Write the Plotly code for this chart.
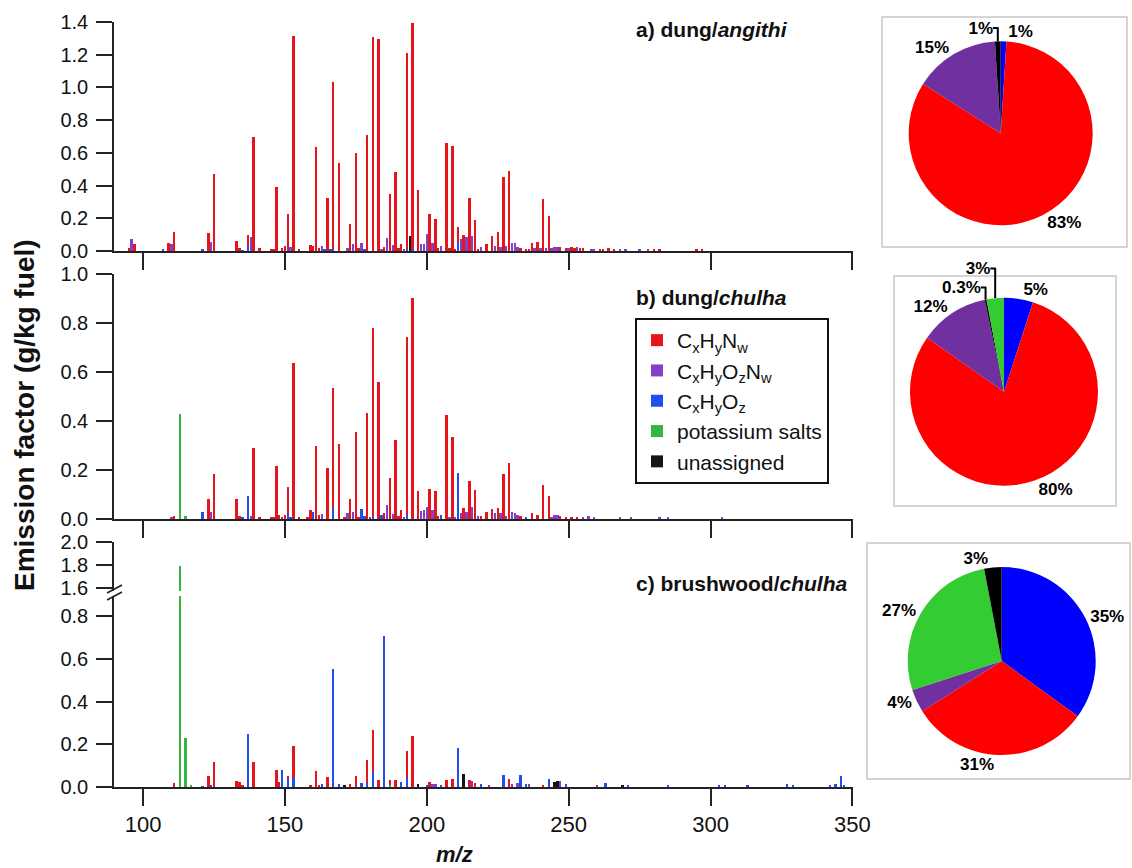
import plotly.graph_objects as go

FONT = "Liberation Sans, Arial, sans-serif"

# ---------------- data (m/z, emission factor g/kg fuel) ----------------
# Panel a) dung / angithi
a_red_mz = [95, 97, 109, 111, 123, 125, 133, 134, 137, 139, 141, 145, 146, 147, 149, 150, 151, 153, 155, 159,
            160, 161, 162, 165, 167, 169, 173, 175, 176, 177, 179, 181, 183, 185, 187, 189, 190, 191, 193, 195,
            197, 201, 203, 204, 207, 208, 209, 210, 211, 213, 215, 217, 218, 221, 223, 225, 227, 229, 233, 235,
            236, 237, 239, 241, 243, 247, 249, 251, 252, 254, 255, 261, 262, 264, 266, 280, 282, 295, 297]
a_red_ef = [0.02, 0.04, 0.05, 0.114, 0.11, 0.47, 0.06, 0.018, 0.10, 0.70, 0.02, 0.01, 0.012, 0.39, 0.016, 0.033, 0.226, 1.315, 0.012, 0.037,
            0.03, 0.635, 0.02, 0.322, 1.033, 0.54, 0.163, 0.598, 0.016, 0.035, 0.712, 1.31, 1.298, 0.025, 0.351, 0.48, 0.018, 0.043, 1.21, 1.394,
            0.37, 0.229, 0.198, 0.02, 0.659, 0.016, 0.639, 0.01, 0.149, 0.098, 0.324, 0.192, 0.014, 0.04, 0.092, 0.114, 0.455, 0.488, 0.016, 0.012,
            0.012, 0.051, 0.057, 0.316, 0.212, 0.027, 0.016, 0.024, 0.018, 0.016, 0.018, 0.012, 0.012, 0.016, 0.014, 0.012, 0.01, 0.012, 0.01]
a_pur_mz = [96, 110, 124, 138, 152, 163, 172, 174, 177, 184, 186, 188, 192, 198, 199, 200, 202, 205, 212, 214,
            216, 219, 224, 226, 228, 230, 231, 232, 238, 240, 242, 244, 245, 246, 250, 253, 258, 259, 268, 270, 275, 278]
a_pur_ef = [0.072, 0.043, 0.055, 0.088, 0.022, 0.033, 0.018, 0.045, 0.05, 0.01, 0.082, 0.037, 0.014, 0.04, 0.04, 0.104, 0.049, 0.033, 0.073, 0.088,
            0.092, 0.022, 0.03, 0.027, 0.03, 0.051, 0.05, 0.027, 0.02, 0.02, 0.018, 0.018, 0.024, 0.024, 0.016, 0.022, 0.012, 0.012, 0.012, 0.01, 0.012, 0.01]
a_blu_mz = [107, 121, 135, 137, 151, 164, 166, 167, 178, 193, 195, 211]
a_blu_ef = [0.01, 0.015, 0.005, 0.03, 0.015, 0.008, 0.008, 0.015, 0.008, 0.012, 0.015, 0.057]
a_grn_mz = []
a_grn_ef = []
a_blk_mz = [194]
a_blk_ef = [0.09]

# Panel b) dung / chulha
b_red_mz = [111, 123, 125, 133, 134, 139, 141, 145, 146, 147, 148, 149, 150, 151, 153, 155, 158, 159, 161, 162,
            165, 167, 169, 171, 173, 175, 176, 179, 180, 181, 183, 185, 187, 189, 190, 191, 193, 195, 197, 201,
            203, 204, 207, 209, 213, 215, 217, 219, 221, 223, 225, 227, 229, 233, 237, 239, 241, 243, 247, 249, 251, 253]
b_red_ef = [0.01, 0.079, 0.184, 0.079, 0.012, 0.288, 0.008, 0.008, 0.008, 0.214, 0.014, 0.008, 0.014, 0.129, 0.637, 0.004, 0.004, 0.034, 0.298, 0.014,
            0.207, 0.533, 0.306, 0.007, 0.08, 0.354, 0.007, 0.431, 0.007, 0.778, 0.56, 0.023, 0.166, 0.321, 0.01, 0.035, 0.744, 0.90, 0.113, 0.121,
            0.113, 0.012, 0.424, 0.335, 0.045, 0.154, 0.117, 0.012, 0.027, 0.039, 0.044, 0.184, 0.227, 0.011, 0.023, 0.015, 0.136, 0.093, 0.01, 0.007, 0.007, 0.007]
b_pur_mz = [110, 124, 138, 163, 172, 174, 186, 188, 192, 198, 199, 200, 202, 208, 210, 212, 214, 216, 218, 224,
            226, 228, 230, 231, 232, 244, 245, 246, 255, 257, 259, 268, 272, 282, 285, 304]
b_pur_ef = [0.007, 0.027, 0.012, 0.018, 0.023, 0.029, 0.054, 0.018, 0.007, 0.03, 0.035, 0.048, 0.037, 0.007, 0.008, 0.023, 0.027, 0.046, 0.01, 0.022,
            0.023, 0.012, 0.027, 0.024, 0.015, 0.008, 0.015, 0.015, 0.007, 0.011, 0.008, 0.004, 0.004, 0.004, 0.004, 0.007]
b_blu_mz = [121, 135, 137, 151, 152, 160, 167, 177, 178, 181, 184, 193, 205, 211, 235]
b_blu_ef = [0.027, 0.008, 0.091, 0.019, 0.005, 0.027, 0.042, 0.039, 0.01, 0.011, 0.015, 0.019, 0.016, 0.186, 0.008]
b_grn_mz = [113, 115]
b_grn_ef = [0.429, 0.012]
b_blk_mz = []
b_blk_ef = []

# Panel c) brushwood / chulha
c_red_mz = [111, 123, 125, 133, 134, 135, 139, 147, 148, 151, 153, 159, 161, 162, 165, 167, 173, 175, 179, 181,
            183, 187, 189, 193, 195, 201, 207, 209, 215, 217, 229, 241]
c_red_ef = [0.017, 0.053, 0.116, 0.028, 0.022, 0.005, 0.116, 0.081, 0.022, 0.053, 0.194, 0.008, 0.077, 0.009, 0.047, 0.11, 0.016, 0.053, 0.128, 0.266,
            0.031, 0.031, 0.031, 0.169, 0.239, 0.022, 0.031, 0.036, 0.031, 0.019, 0.036, 0.008]
c_pur_mz = [202, 203, 216, 222, 230, 232, 236, 247, 260]
c_pur_ef = [0.012, 0.012, 0.028, 0.009, 0.013, 0.017, 0.013, 0.028, 0.008]
c_blu_mz = [121, 124, 137, 149, 151, 153, 163, 167, 169, 177, 179, 181, 185, 191, 193, 200, 205, 211, 219, 227,
            233, 235, 243, 249, 263, 271, 285, 303, 305, 313, 327, 329, 342, 344, 346, 347]
c_blu_ef = [0.003, 0.01, 0.25, 0.078, 0.036, 0.044, 0.014, 0.552, 0.016, 0.019, 0.019, 0.069, 0.708, 0.022, 0.044, 0.009, 0.009, 0.183, 0.013, 0.055,
            0.058, 0.014, 0.038, 0.013, 0.017, 0.008, 0.008, 0.008, 0.008, 0.006, 0.013, 0.008, 0.008, 0.013, 0.05, 0.008]
c_grn_mz = [113, 115, 117, 187]
c_grn_ef = [1.79, 0.231, 0.006, 0.008]
c_blk_mz = [171, 197, 213, 245, 246, 269]
c_blk_ef = [0.005, 0.016, 0.063, 0.025, 0.028, 0.008]

# Class names / colours
class_names = ["C<sub>x</sub>H<sub>y</sub>N<sub>w</sub>",
               "C<sub>x</sub>H<sub>y</sub>O<sub>z</sub>N<sub>w</sub>",
               "C<sub>x</sub>H<sub>y</sub>O<sub>z</sub>",
               "potassium salts",
               "unassigned"]
bar_colors = ["#E8141B", "#8540C8", "#1F4FEE", "#33B540", "#151515"]
pie_colors = ["#FF0000", "#7030A0", "#0000FF", "#33CC33", "#000000"]

# Pie charts (slice order clockwise from 12 o'clock), class index + percent
pie_a_cls = [2, 0, 1, 4]
pie_a_pct = [1, 83, 15, 1]
pie_b_cls = [2, 0, 1, 4, 3]
pie_b_pct = [5, 80, 12, 0.3, 3]
pie_c_cls = [2, 0, 1, 3, 4]
pie_c_pct = [35, 31, 4, 27, 3]

x_ticks = [100, 150, 200, 250, 300, 350]

# ---------------- layout helpers (pixel -> paper) ----------------
W, H = 1132, 868
def px(x):
    return x / W
def py(y):
    return 1 - y / H

fig = go.Figure()

panels = [
    ("x", "y", [(a_red_mz, a_red_ef), (a_pur_mz, a_pur_ef), (a_blu_mz, a_blu_ef), (a_grn_mz, a_grn_ef), (a_blk_mz, a_blk_ef)]),
    ("x2", "y2", [(b_red_mz, b_red_ef), (b_pur_mz, b_pur_ef), (b_blu_mz, b_blu_ef), (b_grn_mz, b_grn_ef), (b_blk_mz, b_blk_ef)]),
    ("x3", "y3", [(c_red_mz, c_red_ef), (c_pur_mz, c_pur_ef), (c_blu_mz, c_blu_ef), (c_grn_mz, c_grn_ef), (c_blk_mz, c_blk_ef)]),
    ("x3", "y4", [(c_red_mz, c_red_ef), (c_pur_mz, c_pur_ef), (c_blu_mz, c_blu_ef), (c_grn_mz, c_grn_ef), (c_blk_mz, c_blk_ef)]),
]
shown = set()
for xa, ya, series in panels:
    for k, (mz, ef) in enumerate(series):
        show = len(mz) > 0 and k not in shown
        if show:
            shown.add(k)
        fig.add_trace(go.Bar(x=mz, y=ef, xaxis=xa, yaxis=ya, width=0.85,
                             marker=dict(color=bar_colors[k], line=dict(width=0)),
                             name=class_names[k], legendgroup=str(k), showlegend=show,
                             legendrank=k + 1, hoverinfo="x+y"))

# pies
pie_specs = [
    (pie_a_cls, pie_a_pct, 1000.7, 133.3, 92),
    (pie_b_cls, pie_b_pct, 1004.0, 391.7, 94),
    (pie_c_cls, pie_c_pct, 1001.7, 661.0, 94),
]
for cls, pct, cx, cy, r in pie_specs:
    fig.add_trace(go.Pie(values=pct, labels=[class_names[c] for c in cls],
                         text=[f"{v:g}%" for v in pct], textinfo="text",
                         texttemplate="<b>%{text}</b>",
                         textposition="outside", sort=False, direction="clockwise", rotation=0,
                         marker=dict(colors=[pie_colors[c] for c in cls], line=dict(width=0)),
                         textfont=dict(family=FONT, size=17, color="black"),
                         showlegend=False, hoverinfo="label+percent", automargin=False,
                         domain=dict(x=[px(cx - r), px(cx + r)], y=[py(cy + r), py(cy - r)])))

axis_common = dict(showgrid=False, zeroline=False, showline=True, linecolor="#222", linewidth=1.6,
                   ticks="outside", tickcolor="#222", tickwidth=1.6, mirror=False, automargin=False)
xdom = [px(114), px(853)]
xrange = [89.77, 350.2]
xcommon = dict(axis_common, domain=xdom, range=xrange, tickvals=x_ticks, ticklen=17)

ycommon = dict(axis_common, ticklen=16, tickformat=".1f",
               tickfont=dict(family=FONT, size=20, color="#111"), ticklabelstandoff=4)

fig.update_layout(
    width=W, height=H, margin=dict(l=0, r=0, t=0, b=0, pad=0, autoexpand=False),
    paper_bgcolor="white", plot_bgcolor="rgba(0,0,0,0)",
    barmode="overlay", bargap=0,
    font=dict(family=FONT, color="#111"),
    xaxis=dict(xcommon, anchor="y", showticklabels=False),
    yaxis=dict(ycommon, domain=[py(251), py(22)], range=[0, 1.4], tickvals=[0, 0.2, 0.4, 0.6, 0.8, 1.0, 1.2, 1.4], anchor="x"),
    xaxis2=dict(xcommon, anchor="y2", showticklabels=False),
    yaxis2=dict(ycommon, domain=[py(519), py(274.3)], range=[0, 1.0], tickvals=[0, 0.2, 0.4, 0.6, 0.8, 1.0], anchor="x2"),
    xaxis3=dict(xcommon, anchor="y3", showticklabels=True,
                tickfont=dict(family=FONT, size=22, color="#111")),
    yaxis3=dict(ycommon, domain=[py(787), py(596)], range=[0, 0.8946], tickvals=[0, 0.2, 0.4, 0.6, 0.8], anchor="x3"),
    yaxis4=dict(ycommon, domain=[py(591), py(542.3)], range=[1.5765, 2.0], tickvals=[1.6, 1.8, 2.0], anchor="x3"),
    legend=dict(x=px(635), y=py(318), xanchor="left", yanchor="top",
                bordercolor="#111", borderwidth=2, bgcolor="white",
                font=dict(family=FONT, size=21, color="#111"), tracegroupgap=0, traceorder="normal"),
    showlegend=True,
)

# axis break marks on the panel c y-axis
for y0 in (593, 600):
    fig.add_shape(type="line", xref="paper", yref="paper",
                  x0=px(107), y0=py(y0), x1=px(122), y1=py(y0 - 8),
                  line=dict(color="#222", width=1.6))

# boxes around pies
for x0, y0, x1, y1 in [(882, 17, 1127, 247), (894, 276, 1116, 506), (867, 543, 1130, 779)]:
    fig.add_shape(type="rect", xref="paper", yref="paper", x0=px(x0), y0=py(y1), x1=px(x1), y1=py(y0),
                  line=dict(color="#C8C8C8", width=1.5), layer="below")

# panel titles
titles = [("a) dung/<i>angithi</i>", 29), ("b) dung/<i>chulha</i>", 297), ("c) brushwood/<i>chulha</i>", 583)]
for txt, yc in titles:
    fig.add_annotation(text=f"<b>{txt}</b>", x=px(634), y=py(yc), xref="paper", yref="paper",
                       xanchor="left", yanchor="middle", showarrow=False,
                       font=dict(family=FONT, size=21, color="#111"))

# axis titles
fig.add_annotation(text="<b>Emission factor (g/kg fuel)</b>", x=px(25), y=py(415), xref="paper", yref="paper",
                   textangle=-90, showarrow=False, xanchor="center", yanchor="middle",
                   font=dict(family=FONT, size=28, color="#111"))
fig.add_annotation(text="<b><i>m/z</i></b>", x=px(454), y=py(854), xref="paper", yref="paper",
                   showarrow=False, xanchor="center", yanchor="middle",
                   font=dict(family=FONT, size=22, color="#111"))

fig.write_html("out.html", config={"displayModeBar": False},
               post_script="document.body.style.margin='0';document.body.style.padding='0';"
                           "document.documentElement.style.overflow='hidden';")
